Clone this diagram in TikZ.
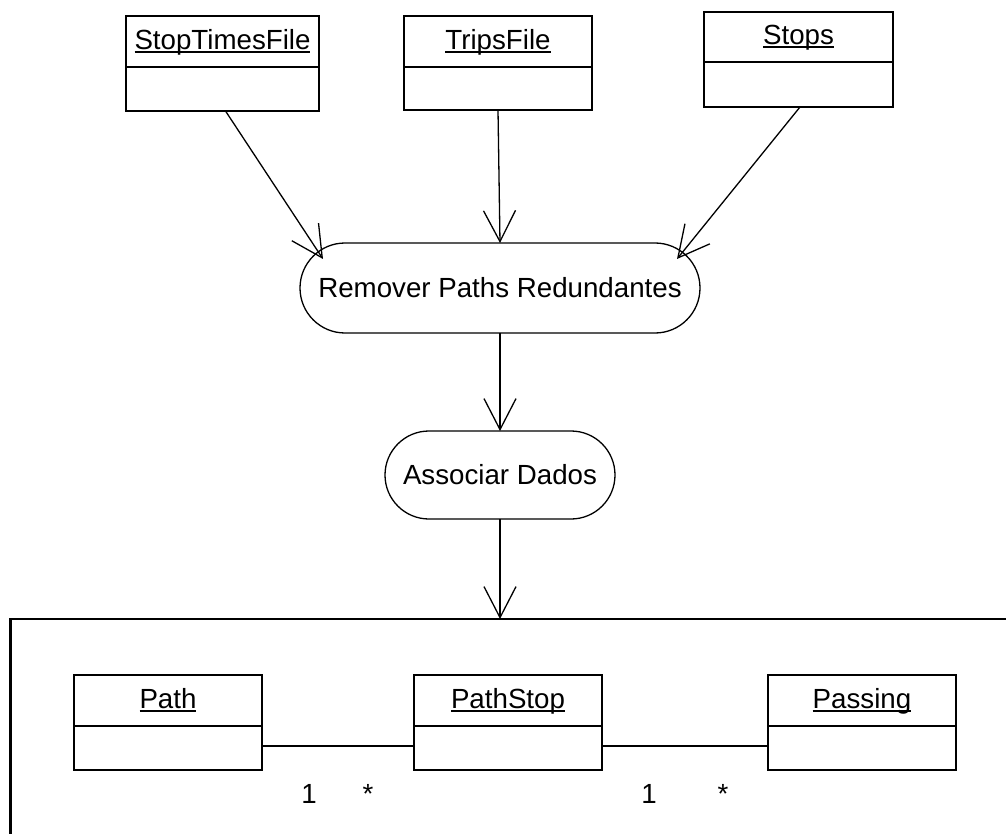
\documentclass[tikz,border=0pt]{standalone}
\usepackage{fontspec}
\setmainfont{Liberation Sans}
\usetikzlibrary{arrows.meta,calc}
\newcommand\umlul[1]{\setbox0\hbox{#1}\rlap{\rule[-0.11em]{\wd0}{0.07em}}\box0}
\begin{document}
\begin{tikzpicture}[x=1pt,y=-1pt,
  every node/.style={font=\fontsize{27.7}{33}\selectfont, inner sep=0pt, outer sep=0pt},
  clshead/.style={draw, line width=2.2pt, minimum width=#1, minimum height=51, text height=21pt, text depth=5pt},
  clsbody/.style={draw, line width=2.2pt, minimum width=#1, minimum height=44, anchor=north},
  actnode/.style={draw, line width=1.3pt, rounded corners=44pt},
  arr/.style={line width=1.3pt, -{Straight Barb[length=31pt,width=32pt,line width=1.3pt]}},
  assoc/.style={line width=1.3pt},
  mult/.style={anchor=base}
]
\useasboundingbox (0,0) rectangle (1006,834);
\clip (0,0) rectangle (1006,834);

% top classes
\node[clshead=193] (stf) at (222.5,41.5) {\umlul{StopTimesFile}};
\node[clsbody=193] (stfb) at (stf.south) {};
\node[clshead=188] (trips) at (498,41.5) {\umlul{TripsFile}};
\node[clsbody=188, minimum height=43] (tripsb) at (trips.south) {};
\node[clshead=189, minimum height=50] (stops) at (798.5,37) {\umlul{Stops}};
\node[clsbody=189, minimum height=45] (stopsb) at (stops.south) {};

% activities
\node[actnode, minimum width=400, minimum height=90, rounded corners=45pt] (rem) at (500,288) {Remover Paths Redundantes};
\node[actnode, minimum width=230, minimum height=88] (ass) at (500,475) {Associar Dados};

% container
\coordinate (cont) at (500,619);
\coordinate (contR) at (1012,619);
\coordinate (contB) at (10.5,840);
\draw[line width=2.2pt] (contR) -- (10.5,619) -- (contB);

% arrows
\draw[arr] ($(stfb.south)+(3,0)$) -- ($(rem.north west)+(23,16)$);
\draw[arr] (tripsb.south) -- (rem.north);
\draw[arr] ($(stopsb.south)+(1.5,0)$) -- ($(rem.north east)+(-23,16)$);
\draw[arr] (rem.south) -- (ass.north);
\draw[arr] (ass.south) -- (cont);

% bottom classes
\node[clshead=188] (path) at (168,700.5) {\umlul{Path}};
\node[clsbody=188] (pathb) at (path.south) {};
\node[clshead=188] (ps) at (508,700.5) {\umlul{PathStop}};
\node[clsbody=188] (psb) at (ps.south) {};
\node[clshead=188] (pass) at (862,700.5) {\umlul{Passing}};
\node[clsbody=188] (passb) at (pass.south) {};

\draw[assoc] ($(pathb.east)+(0,-2)$) -- ($(psb.west)+(0,-2)$);
\draw[assoc] ($(psb.east)+(0,-2)$) -- ($(passb.west)+(0,-2)$);

\node[mult] (m1) at (309,803) {1};
\node[mult] (m2) at (368,803) {*};
\node[mult] (m3) at (649,803) {1};
\node[mult] (m4) at (723,803) {*};
\end{tikzpicture}
\end{document}
